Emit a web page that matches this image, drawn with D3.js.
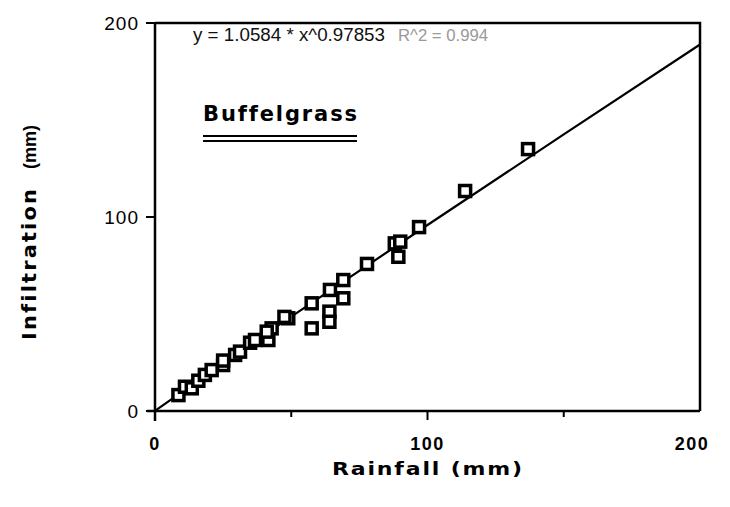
<!DOCTYPE html>
<html>
<head>
<meta charset="utf-8">
<script src="https://cdn.jsdelivr.net/npm/d3@7"></script>
<style>
  body { margin: 0; background: #fff; }
  svg { display: block; font-family: "DejaVu Sans", "Liberation Sans", sans-serif; font-variant-ligatures: none; }
</style>
</head>
<body>
<svg id="chart" width="730" height="507"></svg>
<script>
const width = 730, height = 507;
const svg = d3.select("#chart");

// rainfall (mm) vs infiltration (mm)
const rainfall = [8.6, 11, 13.5, 15.9, 18.3, 20.8, 25, 25, 29.4, 31.2, 34.9, 36.7, 41.6, 42.8, 41,
  48.9, 47.5, 57.5, 57.5, 64.2, 64, 64, 69.1, 69.1, 77.8, 88, 90, 89.3, 96.9, 113.8, 136.9];
const infiltration = [8.2, 12.5, 11.7, 15.6, 18.6, 21.1, 23.7, 26, 28.9, 30.6, 35.2, 36.6, 36.6, 42.6, 40.9,
  47.8, 48.5, 55.5, 42.6, 62.4, 51.2, 46, 67.5, 58.1, 75.8, 86.4, 87.3, 79.5, 94.8, 113.4, 135];

const xTicks = [0, 100, 200];
const yTicks = [0, 100, 200];
const xMinor = [50, 150];

// fitted power curve
const coefA = 1.0584, coefB = 0.97853;
const fitX = [0.5, 25, 50, 100, 150, 200];

const x = d3.scaleLinear().domain([0, 200]).range([155, 700]);
const y = d3.scaleLinear().domain([0, 200]).range([411, 23]);

// frame: top and right lines
svg.append("path")
    .attr("d", `M${x(0)},${y(200)} H${x(200)} V${y(0)}`)
    .attr("fill", "none")
    .attr("stroke", "#000")
    .attr("stroke-width", 2.5);

// x axis
const xAxis = svg.append("g")
    .attr("transform", `translate(0,${y(0)})`)
    .call(d3.axisBottom(x).tickValues(xTicks).tickSize(0).tickFormat(""));
xAxis.select(".domain").attr("stroke-width", 2.5).attr("d", `M${x(0) - 8},0H${x(200)}`);
xAxis.selectAll(".tk")
    .data(xMinor.concat([100, 0]))
    .enter().append("line")
    .attr("x1", d => x(d)).attr("x2", d => x(d))
    .attr("y1", 0).attr("y2", d => d === 0 ? 10 : (d === 100 ? 9 : 6))
    .attr("stroke", "#000").attr("stroke-width", 2);
xAxis.selectAll(".lbl")
    .data(xTicks)
    .enter().append("text")
    .attr("x", d => d === 200 ? x(d) - 8 : x(d)).attr("y", 39)
    .attr("text-anchor", "middle")
    .attr("font-size", 18).attr("font-weight", "bold")
    .attr("letter-spacing", 1.5)
    .attr("fill", "#000")
    .text(d => d);

// y axis
const yAxis = svg.append("g")
    .attr("transform", `translate(${x(0)},0)`)
    .call(d3.axisLeft(y).tickValues(yTicks).tickSize(0).tickFormat(""));
yAxis.select(".domain").attr("stroke-width", 2.5).attr("d", `M0,${y(200)}V${y(0) + 10}`);
yAxis.selectAll(".tk")
    .data(yTicks)
    .enter().append("line")
    .attr("x1", -9).attr("x2", 0)
    .attr("y1", d => y(d)).attr("y2", d => y(d))
    .attr("stroke", "#000").attr("stroke-width", 2);
yAxis.selectAll(".lbl")
    .data(yTicks)
    .enter().append("text")
    .attr("x", -16).attr("y", d => y(d) + 7)
    .attr("text-anchor", "end")
    .attr("font-size", 19)
    .attr("letter-spacing", 1)
    .attr("fill", "#000")
    .text(d => d);

// fitted curve
const line = d3.line()
    .x(d => x(d))
    .y(d => y(coefA * Math.pow(d, coefB)));
svg.append("path")
    .datum(fitX)
    .attr("d", line)
    .attr("fill", "none")
    .attr("stroke", "#000")
    .attr("stroke-width", 2.2);
svg.append("line")
    .attr("x1", x(0)).attr("y1", y(0))
    .attr("x2", x(0.5)).attr("y2", y(coefA * Math.pow(0.5, coefB)))
    .attr("stroke", "#000").attr("stroke-width", 2.2);

// points
const pts = rainfall.map((r, i) => ({ r, v: infiltration[i] }));
svg.selectAll(".pt")
    .data(pts)
    .enter().append("rect")
    .attr("class", "pt")
    .attr("x", d => x(d.r) - 5.5)
    .attr("y", d => y(d.v) - 5.5)
    .attr("width", 11).attr("height", 11)
    .attr("fill", "#fff")
    .attr("stroke", "#000")
    .attr("stroke-width", 3.5);

// equation
svg.append("text")
    .attr("x", 193).attr("y", 41)
    .attr("font-family", "Liberation Sans, Arial, sans-serif")
    .attr("font-size", 18)
    .attr("textLength", 192).attr("lengthAdjust", "spacingAndGlyphs")
    .attr("fill", "#111")
    .text("y = 1.0584 * x^0.97853");
svg.append("text")
    .attr("x", 398).attr("y", 41)
    .attr("font-family", "Liberation Sans, Arial, sans-serif")
    .attr("font-size", 17)
    .attr("textLength", 90).attr("lengthAdjust", "spacingAndGlyphs")
    .attr("fill", "#999")
    .text("R^2 = 0.994");

// legend label
svg.append("text")
    .attr("x", 203).attr("y", 121)
    .attr("font-size", 21).attr("font-weight", "bold")
    .attr("textLength", 154).attr("lengthAdjust", "spacing")
    .attr("fill", "#000")
    .text("Buffelgrass");
[136, 141].forEach(yy => {
  svg.append("line")
      .attr("x1", 203).attr("x2", 357)
      .attr("y1", yy).attr("y2", yy)
      .attr("stroke", "#000").attr("stroke-width", 1.8);
});

// axis titles
svg.append("text")
    .attr("x", 332).attr("y", 475)
    .attr("font-size", 18).attr("font-weight", "bold")
    .attr("letter-spacing", 1.5)
    .attr("textLength", 192).attr("lengthAdjust", "spacingAndGlyphs")
    .attr("fill", "#000")
    .text("Rainfall (mm)");
svg.append("text")
    .attr("transform", "translate(36,340) rotate(-90)")
    .attr("font-size", 19).attr("font-weight", "bold")
    .attr("letter-spacing", 2)
    .attr("textLength", 153).attr("lengthAdjust", "spacingAndGlyphs")
    .attr("fill", "#000")
    .text("Infiltration");
svg.append("text")
    .attr("transform", "translate(36,169) rotate(-90)")
    .attr("font-family", "Liberation Sans, Arial, sans-serif")
    .attr("font-size", 19).attr("font-weight", "bold")
    .attr("textLength", 44).attr("lengthAdjust", "spacingAndGlyphs")
    .attr("fill", "#000")
    .text("(mm)");
</script>
</body>
</html>
